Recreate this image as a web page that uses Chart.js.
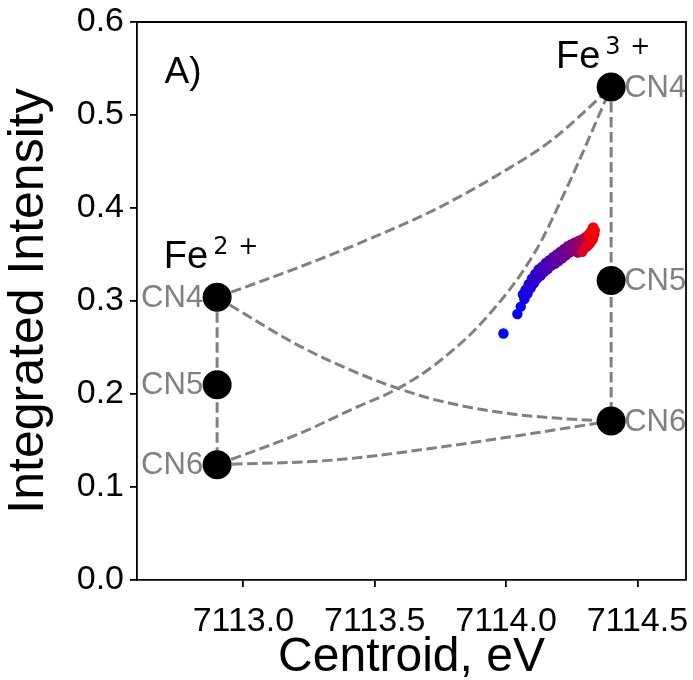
<!DOCTYPE html>
<html>
<head>
<meta charset="utf-8">
<script src="https://cdn.jsdelivr.net/npm/chart.js@4/dist/chart.umd.min.js"></script>
<style>
  html, body { margin: 0; padding: 0; background: #fff; }
  #wrap { width: 693px; height: 680px; }
</style>
</head>
<body>
<div id="wrap"><canvas id="chart"></canvas></div>
<script>
// End members: centroid (eV) and integrated intensity for CN4, CN5, CN6
const fe2Centroid = 7112.9;
const fe3Centroid = 7114.4;
const fe2Intensity = [0.304, 0.210, 0.124];
const fe3Intensity = [0.530, 0.322, 0.171];
const cnLabels = ['CN4', 'CN5', 'CN6'];

// Mixing curves (Fe2+ -> Fe3+)
const mix44X = [7112.9, 7113.218, 7113.474, 7113.727, 7113.983, 7114.174, 7114.4];
const mix44Y = [0.304, 0.337, 0.366, 0.398, 0.438, 0.473, 0.530];
const mix46X = [7112.9, 7113.218, 7113.474, 7113.589, 7113.727, 7113.983, 7114.24, 7114.4];
const mix46Y = [0.304, 0.251, 0.218, 0.206, 0.194, 0.180, 0.173, 0.171];
const mix64X = [7112.9, 7113.218, 7113.409, 7113.589, 7113.727, 7113.918, 7114.109, 7114.24, 7114.4];
const mix64Y = [0.124, 0.158, 0.183, 0.206, 0.231, 0.280, 0.352, 0.427, 0.530];
const mix66X = [7112.9, 7113.344, 7113.727, 7114.109, 7114.4];
const mix66Y = [0.124, 0.129, 0.142, 0.158, 0.171];

// Measured points in sequence (blue = first, red = last)
const obsX = [7113.990, 7114.043, 7114.056, 7114.064, 7114.070, 7114.074, 7114.082, 7114.086,
  7114.094, 7114.098, 7114.106, 7114.111, 7114.118, 7114.124, 7114.131, 7114.137, 7114.144,
  7114.151, 7114.158, 7114.165, 7114.172, 7114.179, 7114.186, 7114.193, 7114.200, 7114.207,
  7114.214, 7114.221, 7114.228, 7114.235, 7114.242, 7114.249, 7114.256, 7114.262, 7114.268,
  7114.273, 7114.279, 7114.284, 7114.289, 7114.294, 7114.299, 7114.304, 7114.308, 7114.313,
  7114.317, 7114.321, 7114.325, 7114.328, 7114.331, 7114.334, 7114.335, 7114.333, 7114.330,
  7114.326, 7114.290, 7114.300, 7114.310, 7114.320, 7114.330, 7114.336, 7114.338, 7114.332,
  7114.322, 7114.315];
const obsY = [0.265, 0.286, 0.294, 0.307, 0.302, 0.312, 0.308, 0.318,
  0.314, 0.324, 0.319, 0.329, 0.324, 0.334, 0.327, 0.337, 0.331,
  0.341, 0.334, 0.344, 0.338, 0.347, 0.340, 0.350, 0.343, 0.353,
  0.346, 0.356, 0.349, 0.359, 0.352, 0.361, 0.354, 0.363, 0.356,
  0.352, 0.365, 0.355, 0.360, 0.367, 0.361, 0.369, 0.363, 0.371,
  0.365, 0.373, 0.367, 0.375, 0.369, 0.377, 0.371, 0.373, 0.378,
  0.375, 0.353, 0.357, 0.359, 0.362, 0.366, 0.372, 0.376, 0.379,
  0.374, 0.371];

const xTicks = [7113.0, 7113.5, 7114.0, 7114.5];
const yTicks = [0.0, 0.1, 0.2, 0.3, 0.4, 0.5, 0.6];

const FONT = "'Liberation Sans', Arial, sans-serif";
const MATH = "'DejaVu Sans', sans-serif";
const GREY = '#808080';

function pts(xs, ys) {
  return xs.map((x, i) => ({ x: x, y: ys[i] }));
}

function dashed(xs, ys) {
  return {
    type: 'line',
    data: pts(xs, ys),
    borderColor: GREY,
    borderWidth: 3,
    borderDash: [10.5, 4.5],
    pointRadius: 0,
    cubicInterpolationMode: 'monotone',
    fill: false,
    order: 3
  };
}

// blue to red along the measurement sequence
const obsColors = obsX.map((_, i) => {
  const t = i / (obsX.length - 1);
  return 'rgb(' + Math.round(255 * t) + ',0,' + Math.round(255 * (1 - t)) + ')';
});

const fe2Pts = fe2Intensity.map(v => ({ x: fe2Centroid, y: v }));
const fe3Pts = fe3Intensity.map(v => ({ x: fe3Centroid, y: v }));

// no extra padding from tick labels, the layout padding decides
function noPad(s) {
  s.paddingLeft = 0; s.paddingRight = 0; s.paddingTop = 0; s.paddingBottom = 0;
}

const labelsPlugin = {
  id: 'labels',
  afterDatasetsDraw(chart) {
    const { ctx, chartArea: a, scales: { x, y } } = chart;
    ctx.save();
    // frame on top and right
    ctx.strokeStyle = '#000';
    ctx.lineWidth = 1.8;
    ctx.beginPath();
    ctx.moveTo(a.left, a.top);
    ctx.lineTo(a.right, a.top);
    ctx.lineTo(a.right, a.bottom);
    ctx.stroke();

    // CN labels
    ctx.font = '31px ' + FONT;
    ctx.fillStyle = GREY;
    ctx.textBaseline = 'middle';
    ctx.textAlign = 'right';
    fe2Intensity.forEach((v, i) => {
      ctx.fillText(cnLabels[i], x.getPixelForValue(fe2Centroid) - 14, y.getPixelForValue(v) + 1);
    });
    ctx.textAlign = 'left';
    fe3Intensity.forEach((v, i) => {
      ctx.fillText(cnLabels[i], x.getPixelForValue(fe3Centroid) + 13, y.getPixelForValue(v) + 1);
    });

    // Fe labels with superscripts
    ctx.fillStyle = '#000';
    ctx.textBaseline = 'alphabetic';
    function feLabel(cx, cy, sup) {
      const px = x.getPixelForValue(cx), py = y.getPixelForValue(cy);
      ctx.font = '38px ' + FONT;
      ctx.fillText('Fe', px, py);
      const w = ctx.measureText('Fe').width;
      ctx.font = '24px ' + MATH;
      ctx.fillText(sup, px + w + 5, py - 14);
      ctx.fillText('+', px + w + 30, py - 14);
    }
    feLabel(7112.697, 0.3355, '2');
    feLabel(7114.19, 0.5505, '3');

    ctx.font = '37px ' + FONT;
    ctx.fillText('A)', x.getPixelForValue(7112.70), y.getPixelForValue(0.534));
    ctx.restore();
  }
};

const ctx = document.getElementById('chart').getContext('2d');
new Chart(ctx, {
  type: 'scatter',
  data: {
    datasets: [
      {
        data: fe2Pts.concat(fe3Pts),
        backgroundColor: '#000',
        borderWidth: 0,
        pointRadius: 14.5,
        order: 1
      },
      {
        data: pts(obsX, obsY),
        backgroundColor: obsColors,
        borderWidth: 0,
        pointRadius: 5.2,
        order: 2
      },
      dashed(mix44X, mix44Y),
      dashed(mix46X, mix46Y),
      dashed(mix64X, mix64Y),
      dashed(mix66X, mix66Y),
      {
        type: 'line',
        data: fe2Pts,
        borderColor: GREY, borderWidth: 3, borderDash: [10.5, 4.5],
        pointRadius: 0, order: 3
      },
      {
        type: 'line',
        data: fe3Pts,
        borderColor: GREY, borderWidth: 3, borderDash: [10.5, 4.5],
        pointRadius: 0, order: 3
      }
    ]
  },
  options: {
    responsive: true,
    maintainAspectRatio: false,
    animation: false,
    layout: { autoPadding: false, padding: { top: 22, right: 7, left: 0, bottom: 0 } },
    plugins: { legend: { display: false }, tooltip: { enabled: false } },
    scales: {
      x: {
        type: 'linear',
        min: 7112.595,
        max: 7114.685,
        afterBuildTicks: s => { s.ticks = xTicks.map(v => ({ value: v })); },
        afterFit: s => { s.height = 100; noPad(s); },
        ticks: {
          color: '#000',
          font: { family: FONT, size: 34 },
          padding: 14,
          maxRotation: 0,
          callback: v => v.toFixed(1)
        },
        grid: { drawOnChartArea: false, tickLength: 7, color: '#000', lineWidth: 1.8 },
        border: { color: '#000', width: 1.8 },
        title: {
          display: true,
          text: 'Centroid, eV',
          color: '#000',
          font: { family: FONT, size: 48, lineHeight: 0.8 },
          padding: { top: 0, bottom: 3 }
        }
      },
      y: {
        type: 'linear',
        min: 0,
        max: 0.6,
        afterBuildTicks: s => { s.ticks = yTicks.map(v => ({ value: v })); },
        afterFit: s => { s.width = 137; noPad(s); },
        ticks: {
          color: '#000',
          font: { family: FONT, size: 34 },
          padding: 6,
          callback: v => v.toFixed(1)
        },
        grid: { drawOnChartArea: false, tickLength: 7, color: '#000', lineWidth: 1.8 },
        border: { color: '#000', width: 1.8 },
        title: {
          display: true,
          text: 'Integrated Intensity',
          color: '#000',
          font: { family: FONT, size: 50, lineHeight: 0.8 },
          padding: { top: 9, bottom: 0 }
        }
      }
    }
  },
  plugins: [labelsPlugin]
});
</script>
</body>
</html>
